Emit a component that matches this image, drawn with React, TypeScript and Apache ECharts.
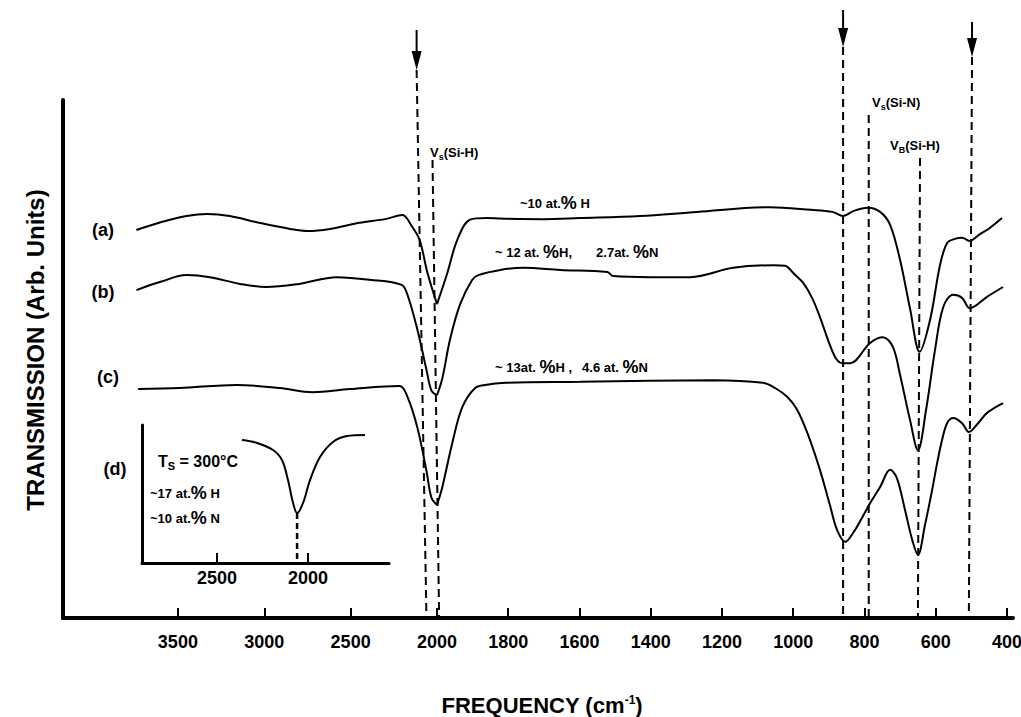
import { useEffect, useRef } from "react";
import * as echarts from "echarts";

// ---------------- data ----------------
const BREAK_FREQ = 2000; // scale change of the frequency axis (cm-1)

const leftTickValues = [3500, 3000, 2500];
const rightTickValues = [2000, 1800, 1600, 1400, 1200, 1000, 800, 600, 400];
const insetTickValues = [2500, 2000];

// [frequency cm-1, transmission arb. units]
const curveA: [number, number][] = [
  [3740, 74.9], [3600, 76.4], [3450, 77.6], [3330, 78.0], [3200, 77.6], [3030, 76.3],
  [2850, 75.1], [2750, 74.7], [2620, 75.1], [2450, 76.3], [2300, 77.0], [2200, 77.8],
  [2147, 75.7], [2101, 73.0], [2055, 66.6], [2000, 60.6], [1971, 66.6], [1943, 73.0],
  [1907, 76.9], [1860, 77.2], [1820, 77.1], [1700, 77.0], [1600, 77.2], [1430, 77.6],
  [1270, 78.4], [1065, 79.3], [950, 78.8], [890, 78.4], [860, 77.6], [830, 78.6],
  [790, 79.2], [756, 78.4], [728, 75.9], [700, 69.1], [672, 59.7], [645, 51.4],
  [616, 57.5], [588, 68.1], [568, 72.4], [546, 73.2], [526, 73.4], [505, 72.8],
  [476, 74.1], [448, 75.3], [414, 77.2],
];

const curveB: [number, number][] = [
  [3740, 63.3], [3600, 64.9], [3450, 66.2], [3315, 65.8], [3140, 64.5], [2990, 63.9],
  [2800, 64.5], [2580, 65.8], [2390, 65.3], [2205, 64.3], [2171, 62.4], [2113, 55.6],
  [2061, 47.9], [2032, 43.9], [2000, 43.0], [1985, 46.3], [1963, 53.9], [1935, 60.6],
  [1901, 65.3], [1884, 66.2], [1822, 67.2], [1758, 67.6], [1654, 67.2], [1522, 66.8],
  [1505, 66.0], [1402, 65.8], [1289, 65.8], [1169, 67.6], [1056, 68.1], [1023, 68.0],
  [1000, 66.6], [972, 64.7], [947, 61.8], [925, 58.1], [897, 52.7], [877, 49.8],
  [860, 49.2], [840, 49.2], [784, 53.1], [748, 54.2], [720, 52.3], [700, 46.9],
  [672, 38.2], [650, 32.4], [627, 40.2], [602, 51.7], [579, 60.0], [551, 62.4],
  [526, 61.8], [504, 59.8], [456, 62.0], [411, 63.9],
];

const curveC: [number, number][] = [
  [3730, 44.2], [3490, 44.4], [3160, 45.0], [2910, 44.4], [2720, 43.6], [2506, 44.2],
  [2217, 44.8], [2171, 42.7], [2113, 36.7], [2061, 28.4], [2032, 23.2], [2000, 21.8],
  [1985, 25.3], [1957, 33.8], [1929, 40.7], [1893, 44.4], [1865, 45.0], [1808, 45.4],
  [1598, 45.6], [1402, 45.8], [1225, 45.9], [1085, 45.4], [1051, 44.4], [1017, 42.7],
  [989, 40.2], [958, 35.3], [925, 28.6], [897, 21.8], [877, 17.0], [854, 14.7],
  [832, 16.4], [807, 19.3], [784, 22.2], [756, 25.3], [728, 28.6], [709, 27.0],
  [686, 20.8], [666, 15.1], [650, 12.2], [630, 18.0], [610, 24.7], [596, 29.9],
  [582, 34.4], [568, 37.6], [551, 38.6], [526, 37.6], [507, 35.9], [481, 37.6],
  [456, 39.6], [411, 41.5],
];

// inset (d): Si-H stretching band, Ts = 300 C
const curveD: [number, number][] = [
  [2363, 89.1], [2280, 87.0], [2192, 81.9], [2143, 74.6], [2110, 60.1], [2082, 43.5],
  [2060, 36.2], [2027, 43.5], [1989, 60.1], [1934, 76.8], [1863, 87.7], [1786, 92.0],
  [1687, 92.8],
];

// dashed guide lines: [frequency at top, frequency at axis]
const guideFreqs: [number, number][] = [
  [2118, 2061], [2026, 1994], [860, 860], [788, 788], [644, 650], [498, 507],
];

// ---------------- layout / style ----------------
const guideTops = [70, 160, 47, 115, 158, 57];
const arrowGuides = [0, 2, 5];
const arrowShaftTops = [30, 10, 22];
const FONT = '"Liberation Sans", Arial, Helvetica, sans-serif';

export default function App() {
  const ref = useRef<HTMLDivElement>(null);

  useEffect(() => {
    document.body.style.margin = "0";
    const chart = echarts.init(ref.current!, null, { renderer: "svg" });

    const lineStyle = { color: "#000", width: 2 };
    const high = (c: [number, number][]) => c.filter((p) => p[0] >= BREAK_FREQ);
    const low = (c: [number, number][]) => c.filter((p) => p[0] <= BREAK_FREQ);
    const mk = (data: [number, number][], idx: number) => ({
      type: "line",
      xAxisIndex: idx,
      yAxisIndex: idx,
      data,
      showSymbol: false,
      symbol: "none",
      smooth: 0.35,
      clip: false,
      silent: true,
      lineStyle,
    });

    const xAxisCfg = (
      gridIndex: number, min: number, max: number, ticks: number[],
      lw: number, tickLen: number, labelSize: number, margin: number
    ) => ({
      type: "value",
      gridIndex,
      inverse: true,
      min,
      max,
      axisLine: { show: true, onZero: false, lineStyle: { color: "#000", width: lw } },
      axisTick: {
        show: true, inside: true, length: tickLen, customValues: ticks,
        lineStyle: { color: "#000", width: 2 },
      },
      axisLabel: {
        show: true, customValues: ticks, color: "#000", fontFamily: FONT,
        fontWeight: "bold", fontSize: labelSize, margin,
        showMinLabel: true, showMaxLabel: true,
        formatter: (v: number) => String(v),
      },
      splitLine: { show: false },
    });

    const yAxisCfg = (gridIndex: number, show: boolean, lw: number) => ({
      type: "value",
      gridIndex,
      min: 0,
      max: 100,
      show,
      axisLine: { show, onZero: false, lineStyle: { color: "#000", width: lw } },
      axisTick: { show: false },
      axisLabel: { show: false },
      splitLine: { show: false },
    });

    const gridCommon = { containLabel: false, outerBoundsMode: "none" };

    chart.setOption({
      animation: false,
      backgroundColor: "#fff",
      grid: [
        { ...gridCommon, left: 63, top: 100, width: 374, height: 518 },
        { ...gridCommon, left: 437, top: 100, width: 576, height: 518 },
        { ...gridCommon, left: 142, top: 425, width: 247, height: 138 },
      ],
      xAxis: [
        xAxisCfg(0, 2000, 4165, leftTickValues, 4, 10, 18, 15),
        xAxisCfg(1, 383, 2000, rightTickValues, 4, 10, 18, 15),
        xAxisCfg(2, 1555, 2912, insetTickValues, 3, 10, 18, 6),
      ],
      yAxis: [yAxisCfg(0, true, 4), yAxisCfg(1, false, 4), yAxisCfg(2, true, 3)],
      series: [
        mk(high(curveA), 0), mk(low(curveA), 1),
        mk(high(curveB), 0), mk(low(curveB), 1),
        mk(high(curveC), 0), mk(low(curveC), 1),
        mk(curveD, 2),
      ],
    });

    // ----- annotations placed through the axes' scales -----
    const yBase = chart.convertToPixel({ yAxisIndex: 0 }, 0) as number;
    const xOf = (f: number) =>
      chart.convertToPixel({ xAxisIndex: f >= BREAK_FREQ ? 0 : 1 }, f) as number;

    const g: any[] = [];
    guideFreqs.forEach(([ft, fb], i) => {
      g.push({
        type: "line",
        silent: true,
        shape: { x1: xOf(ft), y1: guideTops[i], x2: xOf(fb), y2: yBase },
        style: { stroke: "#000", lineWidth: 2, lineDash: [8, 5] },
      });
    });
    arrowGuides.forEach((gi, k) => {
      const x = xOf(guideFreqs[gi][0]);
      const tip = guideTops[gi];
      g.push({
        type: "line",
        silent: true,
        shape: { x1: x, y1: arrowShaftTops[k], x2: x, y2: tip - 12 },
        style: { stroke: "#000", lineWidth: 2 },
      });
      g.push({
        type: "polygon",
        silent: true,
        shape: { points: [[x - 5, tip - 19], [x + 5, tip - 19], [x, tip]] },
        style: { fill: "#000" },
      });
    });

    // inset guide from the band minimum down to its axis
    const dMin = curveD.reduce((a, b) => (b[1] < a[1] ? b : a));
    const pMin = chart.convertToPixel({ gridIndex: 2 }, dMin) as number[];
    const yInsetBase = chart.convertToPixel({ yAxisIndex: 2 }, 0) as number;
    g.push({
      type: "line",
      silent: true,
      shape: { x1: pMin[0], y1: pMin[1], x2: pMin[0], y2: yInsetBase },
      style: { stroke: "#000", lineWidth: 2.5, lineDash: [6, 4] },
    });

    const base = { fontFamily: FONT, fontWeight: "bold", fill: "#000" };
    const small = { ...base, fontSize: 13 };
    const pct = { ...base, fontSize: 18 };
    const sub = { ...base, fontSize: 9, padding: [9, 0, 0, 0] };
    const richText = (x: number, y: number, text: string, rich: any, align = "left") => ({
      type: "text",
      silent: true,
      x,
      y,
      style: { text, rich, align, verticalAlign: "middle", ...base, fontSize: 13 },
    });
    const plain = (x: number, y: number, text: string, size: number, rotation = 0) => ({
      type: "text",
      silent: true,
      x,
      y,
      rotation,
      style: { text, ...base, fontSize: size, align: "center", verticalAlign: "middle" },
    });

    g.push(plain(103, 230, "(a)", 18));
    g.push(plain(103, 292, "(b)", 18));
    g.push(plain(108, 377, "(c)", 18));
    g.push(plain(115, 469, "(d)", 18));
    g.push(plain(35, 350, "TRANSMISSION (Arb. Units)", 24, Math.PI / 2));
    g.push(
      richText(542, 705, "{t|FREQUENCY (cm}{s|-1}{t|)}", {
        t: { ...base, fontSize: 22 },
        s: { ...base, fontSize: 12, padding: [0, 0, 10, 0] },
      }, "center")
    );
    g.push(richText(430, 152, "{v|V}{s|s}{v|(Si-H)}", { v: small, s: sub }));
    g.push(richText(872, 102, "{v|V}{s|s}{v|(Si-N)}", { v: small, s: sub }));
    g.push(richText(890, 145, "{v|V}{s|B}{v|(Si-H)}", { v: small, s: sub }));
    g.push(richText(520, 203, "{t|~10 at.}{p|%}{t| H}", { t: small, p: pct }));
    g.push(
      richText(495, 252, "{t|~ 12 at. }{p|%}{t|H,}{g|2.7at. }{p|%}{t|N}", {
        t: small, p: pct, g: { ...small, padding: [0, 0, 0, 24] },
      })
    );
    g.push(
      richText(495, 367, "{t|~ 13at. }{p|%}{t|H ,}{g|4.6 at. }{p|%}{t|N}", {
        t: small, p: pct, g: { ...small, padding: [0, 0, 0, 10] },
      })
    );
    g.push(
      richText(158, 461, "{T|T}{S|S}{T| = 300°C}", {
        T: { ...base, fontSize: 16 },
        S: { ...base, fontSize: 11, padding: [10, 0, 0, 0] },
      })
    );
    g.push(richText(150, 493, "{t|~17 at.}{p|%}{t| H}", { t: small, p: pct }));
    g.push(richText(150, 518, "{t|~10 at.}{p|%}{t| N}", { t: small, p: pct }));

    chart.setOption({ graphic: { elements: g } });

    return () => {
      chart.dispose();
    };
  }, []);

  return <div ref={ref} style={{ width: 1021, height: 717 }} />;
}
